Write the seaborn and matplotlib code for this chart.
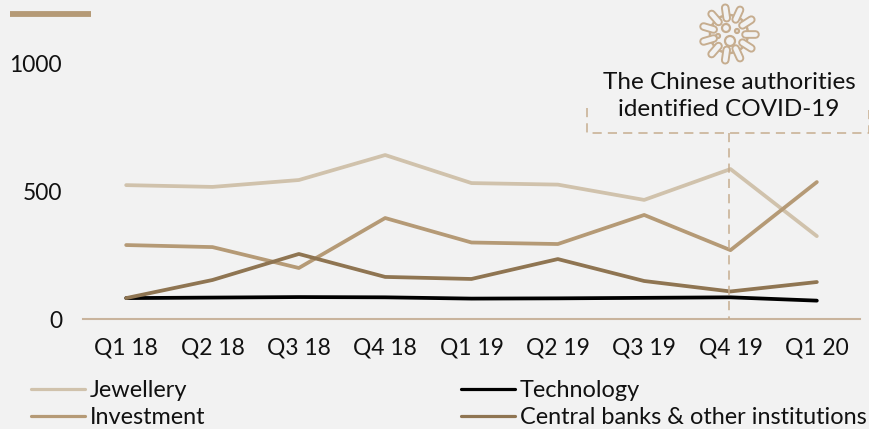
import numpy as np
import pandas as pd
import matplotlib
matplotlib.use("Agg")
import matplotlib.pyplot as plt
import seaborn as sns

quarters = ["Q1 18", "Q2 18", "Q3 18", "Q4 18", "Q1 19", "Q2 19", "Q3 19", "Q4 19", "Q1 20"]
jewellery = [525, 518, 545, 643, 533, 527, 467, 588, 325]
investment = [290, 282, 200, 396, 300, 294, 408, 270, 537]
technology = [82, 84, 86, 85, 80, 81, 83, 85, 72]
central_banks = [82, 153, 255, 165, 157, 235, 149, 108, 145]

BG = "#f2f2f2"
TAN = "#c6ad8f"
FS = 16.4
sns.set_theme(style="white", rc={"figure.facecolor": BG, "axes.facecolor": BG})
plt.rcParams["font.family"] = ["Lato", "DejaVu Sans"]

W, H = 870, 429
fig = plt.figure(figsize=(W / 100, H / 100), dpi=100)
ax = fig.add_axes([83 / W, 1 - 319 / H, (860 - 83) / W, 255 / H])
ax.patch.set_alpha(0)

df = pd.DataFrame({
    "quarter": quarters * 4,
    "sector": ["Jewellery"] * 9 + ["Investment"] * 9 + ["Technology"] * 9 + ["Central banks & other institutions"] * 9,
    "tonnes": jewellery + investment + technology + central_banks,
})
palette = {"Jewellery": "#d0c2ac", "Investment": "#b59a76", "Technology": "#000000",
           "Central banks & other institutions": "#8f7552"}
sns.lineplot(data=df, x="quarter", y="tonnes", hue="sector", palette=palette, linewidth=2.7,
             sort=False, ax=ax, clip_on=False)

ax.set_xlim(-0.5, 8.5)
ax.set_ylim(0, 1000)
ax.set_yticks([0, 500, 1000])
ax.set_xlabel("")
ax.set_ylabel("")
sns.despine(ax=ax, left=True)
ax.spines["bottom"].set_color("#c9b49d")
ax.spines["bottom"].set_linewidth(1.5)
ax.tick_params(axis="both", length=0, labelsize=FS, labelcolor="#111111")
ax.tick_params(axis="x", pad=13)
ax.tick_params(axis="y", pad=15)

handles, labels = ax.get_legend_handles_labels()
for h in handles:
    h.set_linewidth(2.3)
leg = ax.legend(handles, labels, ncol=2, frameon=False, fontsize=16.9, loc="lower left",
                bbox_to_anchor=(31 / W, 1 / H), bbox_transform=fig.transFigure,
                handlelength=2.3, handletextpad=0.2, columnspacing=10.9, labelspacing=0.25,
                borderpad=0, borderaxespad=0, labelcolor="#111111")

# overlay in pixel coordinates for the annotation furniture
over = fig.add_axes([0, 0, 1, 1])
over.set_xlim(0, W)
over.set_ylim(H, 0)
over.axis("off")

over.plot([10, 91], [14, 14], color="#b59a76", lw=4.2, solid_capstyle="butt")

dash = dict(color=TAN, lw=1.1, ls=(0, (6, 4)))
over.plot([587, 587, 869, 869], [108, 133, 133, 108], **dash)
over.plot([729, 729], [133, 319], **dash)
over.text(729, 96, "The Chinese authorities\nidentified COVID-19", ha="center", va="center",
          fontsize=17.5, color="#111111", linespacing=1.38)

# virus icon
cx, cy = 729, 34
over.add_patch(plt.Circle((cx, cy), 19, fc=BG, ec=TAN, lw=1.8))
for ang in np.arange(11) * 2 * np.pi / 11 + 0.0:
    x = [cx + 16 * np.cos(ang), cx + 26.5 * np.cos(ang)]
    y = [cy + 16 * np.sin(ang), cy + 26.5 * np.sin(ang)]
    over.plot(x, y, color=TAN, lw=6.2, solid_capstyle="round")
    over.plot(x, y, color=BG, lw=3.4, solid_capstyle="round")
for dx, dy, r in [(-3, -6, 4), (1, 7, 5), (-11, 2, 2), (8, -3, 2)]:
    over.add_patch(plt.Circle((cx + dx, cy + dy), r, fc="none", ec=TAN, lw=1.6))

fig.savefig("out.png", dpi=100, facecolor=BG)
